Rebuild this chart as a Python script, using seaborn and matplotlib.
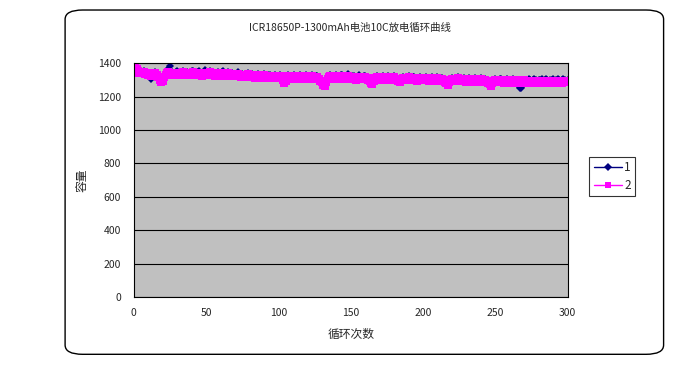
import numpy as np
import pandas as pd
import matplotlib
matplotlib.use("Agg")
import matplotlib.pyplot as plt
import seaborn as sns
from matplotlib.patches import FancyBboxPatch

# 循环次数 1..300
cycles = list(range(1, 301))

# 系列1 (深蓝, 菱形)
cap1 = [
    1385, 1372, 1358, 1350, 1355, 1345, 1350, 1340, 1338, 1325, 1315, 1305, 1322, 1338, 1345, 1335, 1325, 1312, 1298, 1305,
    1322, 1338, 1348, 1362, 1380, 1350, 1340, 1332, 1344, 1350, 1340, 1334, 1346, 1352, 1342, 1336, 1344, 1332, 1340, 1350,
    1352, 1342, 1334, 1344, 1350, 1338, 1330, 1342, 1356, 1340, 1332, 1346, 1352, 1344, 1334, 1326, 1342, 1348, 1336, 1330,
    1344, 1352, 1338, 1330, 1346, 1336, 1328, 1342, 1334, 1326, 1336, 1344, 1332, 1324, 1336, 1330, 1322, 1334, 1340, 1328,
    1322, 1332, 1326, 1318, 1330, 1336, 1324, 1318, 1328, 1332, 1322, 1316, 1326, 1330, 1320, 1314, 1324, 1328, 1318, 1322,
    1326, 1316, 1306, 1290, 1300, 1318, 1326, 1320, 1312, 1324, 1328, 1318, 1312, 1322, 1326, 1316, 1310, 1320, 1326, 1318,
    1312, 1322, 1326, 1316, 1308, 1320, 1324, 1310, 1300, 1290, 1276, 1268, 1290, 1308, 1320, 1326, 1316, 1310, 1322, 1326,
    1318, 1312, 1330, 1328, 1318, 1310, 1322, 1332, 1316, 1308, 1320, 1324, 1314, 1306, 1318, 1330, 1314, 1308, 1320, 1324,
    1314, 1306, 1298, 1286, 1282, 1300, 1316, 1322, 1312, 1306, 1318, 1324, 1314, 1306, 1318, 1322, 1312, 1304, 1316, 1322,
    1312, 1304, 1296, 1290, 1306, 1316, 1310, 1302, 1314, 1320, 1310, 1302, 1314, 1318, 1308, 1300, 1312, 1318, 1308, 1302,
    1312, 1316, 1306, 1298, 1310, 1316, 1306, 1298, 1310, 1314, 1304, 1296, 1308, 1302, 1294, 1284, 1276, 1290, 1304, 1312,
    1306, 1298, 1308, 1314, 1304, 1296, 1306, 1312, 1302, 1294, 1306, 1312, 1302, 1294, 1304, 1310, 1300, 1292, 1304, 1310,
    1300, 1292, 1302, 1296, 1288, 1278, 1272, 1286, 1300, 1306, 1298, 1290, 1302, 1306, 1296, 1288, 1300, 1304, 1294, 1300,
    1298, 1304, 1294, 1286, 1278, 1265, 1250, 1248, 1268, 1290, 1298, 1290, 1302, 1300, 1292, 1296, 1302, 1298, 1290, 1300,
    1296, 1302, 1292, 1296, 1302, 1298, 1290, 1300, 1296, 1302, 1292, 1296, 1302, 1298, 1290, 1298, 1302, 1296, 1290, 1298,
]

# 系列2 (品红, 方块)
cap2 = [
    1372, 1365, 1350, 1342, 1348, 1338, 1345, 1336, 1340, 1330, 1338, 1325, 1320, 1332, 1340, 1328, 1318, 1300, 1285, 1292,
    1315, 1330, 1338, 1345, 1335, 1340, 1332, 1326, 1338, 1342, 1334, 1328, 1340, 1345, 1336, 1330, 1338, 1326, 1332, 1340,
    1344, 1335, 1328, 1336, 1342, 1330, 1324, 1334, 1340, 1332, 1326, 1338, 1344, 1336, 1328, 1320, 1334, 1340, 1330, 1324,
    1336, 1342, 1332, 1325, 1338, 1330, 1322, 1334, 1328, 1320, 1330, 1336, 1326, 1318, 1330, 1324, 1316, 1328, 1334, 1322,
    1316, 1326, 1320, 1312, 1324, 1330, 1318, 1312, 1322, 1326, 1316, 1310, 1320, 1324, 1314, 1308, 1318, 1322, 1312, 1316,
    1320, 1310, 1300, 1282, 1295, 1312, 1320, 1314, 1306, 1318, 1322, 1312, 1306, 1316, 1320, 1310, 1304, 1314, 1320, 1312,
    1306, 1316, 1320, 1310, 1302, 1314, 1318, 1305, 1295, 1285, 1270, 1262, 1285, 1302, 1314, 1320, 1310, 1304, 1316, 1320,
    1312, 1306, 1318, 1322, 1312, 1304, 1316, 1320, 1310, 1302, 1314, 1318, 1308, 1300, 1312, 1318, 1308, 1302, 1314, 1318,
    1308, 1300, 1292, 1280, 1275, 1295, 1310, 1316, 1306, 1300, 1312, 1318, 1308, 1300, 1312, 1316, 1306, 1298, 1310, 1316,
    1306, 1298, 1290, 1285, 1300, 1310, 1304, 1296, 1308, 1314, 1304, 1296, 1308, 1312, 1302, 1294, 1306, 1312, 1302, 1296,
    1306, 1310, 1300, 1292, 1304, 1310, 1300, 1292, 1304, 1308, 1298, 1290, 1302, 1296, 1288, 1278, 1270, 1285, 1298, 1306,
    1300, 1292, 1302, 1308, 1298, 1290, 1300, 1306, 1296, 1288, 1300, 1306, 1296, 1288, 1298, 1304, 1294, 1286, 1298, 1304,
    1294, 1286, 1296, 1290, 1282, 1272, 1265, 1280, 1294, 1300, 1292, 1284, 1296, 1300, 1290, 1282, 1294, 1298, 1288, 1282,
    1292, 1298, 1288, 1280, 1292, 1296, 1286, 1280, 1290, 1296, 1286, 1278, 1290, 1294, 1284, 1278, 1290, 1294, 1284, 1280,
    1290, 1294, 1284, 1278, 1288, 1294, 1284, 1278, 1288, 1292, 1282, 1278, 1288, 1292, 1284, 1280, 1290, 1292, 1284, 1288,
]

colors = {"1": "#000080", "2": "#FF00FF"}
markers = {"1": "D", "2": "s"}

df = pd.DataFrame({
    "循环次数": cycles * 2,
    "容量": cap1 + cap2,
    "系列": ["1"] * len(cap1) + ["2"] * len(cap2),
})

sns.set_style("white")
plt.rcParams["font.family"] = ["Noto Sans CJK SC", "DejaVu Sans"]

fig = plt.figure(figsize=(7.0, 3.71), dpi=100)
fig.patch.set_facecolor("white")

# 外框 (圆角)
frame = FancyBboxPatch((0.093, 0.045), 0.855, 0.928,
                       boxstyle="round,pad=0,rounding_size=0.025",
                       transform=fig.transFigure, facecolor="none",
                       edgecolor="black", linewidth=1.0, zorder=-1)
fig.patches.append(frame)

ax = fig.add_axes([0.191, 0.199, 0.62, 0.631])
ax.set_facecolor("#C0C0C0")

sns.lineplot(data=df, x="循环次数", y="容量", hue="系列", style="系列",
             palette=colors, markers=markers, dashes=False,
             linewidth=1.0, markersize=4.5, markeredgewidth=0,
             ax=ax, legend=True)

# 蓝色菱形稍小, 品红方块稍大 (品红压在上面)
ax.lines[0].set_markersize(4.0)
ax.lines[1].set_markersize(5.3)

ax.set_xlim(0, 300)
ax.set_ylim(0, 1400)
ax.set_xticks([0, 50, 100, 150, 200, 250, 300])
ax.set_yticks([0, 200, 400, 600, 800, 1000, 1200, 1400])
ax.yaxis.grid(True, color="black", linewidth=0.8)
ax.set_axisbelow(True)
for s in ax.spines.values():
    s.set_color("black")
    s.set_linewidth(0.8)
ax.tick_params(axis="x", direction="in", length=3, labelsize=7.5, pad=8)
ax.tick_params(axis="y", direction="out", length=3, labelsize=7.5, pad=6)

ax.set_xlabel("循环次数", fontsize=8.5, labelpad=7)
ax.set_ylabel("容量", fontsize=8.5)
ax.yaxis.set_label_coords(-0.105, 0.5)
fig.text(0.5, 0.925, "ICR18650P-1300mAh电池10C放电循环曲线",
         ha="center", va="center", fontsize=7.5)

handles, labels = ax.get_legend_handles_labels()
ax.legend(handles, labels, loc="center left", bbox_to_anchor=(1.05, 0.515),
          frameon=True, fancybox=False, edgecolor="black", fontsize=8.5,
          handlelength=2.4, handletextpad=0.2, borderpad=0.35,
          labelspacing=0.45, borderaxespad=0, title=None)
ax.get_legend().get_frame().set_linewidth(0.8)

fig.savefig("out.png", dpi=100, facecolor="white")
